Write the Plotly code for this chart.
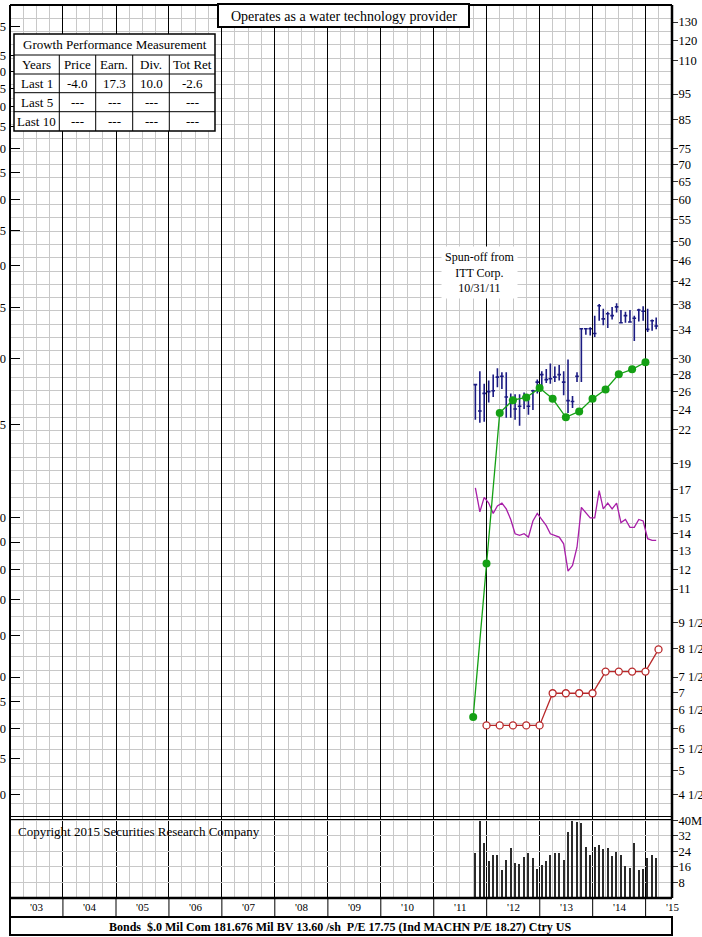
import math
import plotly.graph_objects as go

# ---- monthly price data (Oct 2011 .. Mar 2015) ----
months = ["2011-10", "2011-11", "2011-12",
          "2012-01", "2012-02", "2012-03", "2012-04", "2012-05", "2012-06",
          "2012-07", "2012-08", "2012-09", "2012-10", "2012-11", "2012-12",
          "2013-01", "2013-02", "2013-03", "2013-04", "2013-05", "2013-06",
          "2013-07", "2013-08", "2013-09", "2013-10", "2013-11", "2013-12",
          "2014-01", "2014-02", "2014-03", "2014-04", "2014-05", "2014-06",
          "2014-07", "2014-08", "2014-09", "2014-10", "2014-11", "2014-12",
          "2015-01", "2015-02", "2015-03"]
price_high = [26.9, 28.4, 26.9, 27.3, 28.0, 28.8, 28.3, 28.3, 25.8, 25.7, 25.7, 25.9,
              25.6, 26.2, 27.4, 28.4, 28.7, 29.4, 29.0, 29.2, 28.4, 29.9, 25.5, 28.3,
              34.3, 34.3, 34.4, 36.2, 38.1, 37.3, 36.8, 37.6, 38.2, 37.1, 36.8, 37.1,
              36.2, 37.3, 37.7, 37.3, 35.6, 35.9]
price_low = [23.0, 22.7, 22.8, 24.8, 25.4, 26.5, 26.3, 23.2, 23.2, 23.0, 22.4, 24.1,
             23.5, 24.0, 25.8, 26.1, 27.0, 26.9, 27.1, 27.3, 25.6, 23.7, 24.2, 27.1,
             27.1, 33.3, 33.2, 33.0, 35.4, 34.7, 34.3, 35.6, 36.7, 35.0, 35.1, 35.1,
             32.4, 35.3, 35.4, 33.7, 33.9, 34.1]
price_close = [26.8, 23.9, 25.8, 26.0, 26.1, 27.7, 27.8, 25.4, 25.1, 24.1, 24.4, 25.4,
               24.4, 26.1, 27.1, 28.0, 27.4, 27.5, 27.7, 28.0, 27.1, 25.0, 24.9, 27.8,
               34.2, 34.2, 34.2, 33.5, 37.8, 35.7, 36.5, 36.2, 37.6, 35.1, 36.2, 35.2,
               35.8, 37.1, 36.9, 34.1, 35.4, 34.6]
rel_strength = [17.1, 15.4, 16.4, 16.0, 15.3, 15.8, 16.0, 15.6, 14.9, 14.0, 13.9, 14.0,
                13.8, 14.8, 15.3, 14.9, 14.5, 14.0, 13.9, 13.8, 13.4, 11.9, 12.2, 13.2,
                15.7, 15.3, 15.0, 15.0, 16.9, 15.6, 16.0, 15.6, 16.0, 14.7, 14.9, 14.4,
                14.4, 14.9, 14.8, 13.7, 13.6, 13.6]
volume_m = [23.3, 39.5, 28.2, 18.9, 21.9, 21.9, 14.4, 19.4, 25.7, 18.0, 17.6, 21.1,
            22.9, 20.6, 14.8, 17.1, 19.2, 22.0, 22.9, 23.3, 19.4, 33.8, 39.5, 39.1,
            38.6, 26.4, 22.0, 26.4, 27.3, 25.0, 25.9, 21.5, 23.6, 21.9, 16.2, 15.3,
            28.5, 14.4, 14.8, 20.6, 21.9, 20.6]

# ---- quarterly earnings / dividends ----
eps_dates = ["2011-09-30", "2011-12-31", "2012-03-31", "2012-06-30", "2012-09-30",
             "2012-12-31", "2013-03-31", "2013-06-30", "2013-09-30", "2013-12-31",
             "2014-03-31", "2014-06-30", "2014-09-30", "2014-12-31"]
eps = [0.42, 0.82, 1.58, 1.67, 1.69, 1.76, 1.68, 1.55, 1.59, 1.68, 1.75, 1.87, 1.91, 1.97]
div_dates = ["2011-12-31", "2012-03-31", "2012-06-30", "2012-09-30", "2012-12-31",
             "2013-03-31", "2013-06-30", "2013-09-30", "2013-12-31", "2014-03-31",
             "2014-06-30", "2014-09-30", "2014-12-31", "2015-03-31"]
dividends = [0.405, 0.405, 0.405, 0.405, 0.405, 0.466, 0.466, 0.466, 0.466,
             0.512, 0.512, 0.512, 0.512, 0.564]

# ---- axis labels ----
price_ticks = [130, 120, 110, 95, 85, 75, 70, 65, 60, 55, 50, 46, 42, 38, 34, 30, 28, 26,
               24, 22, 19, 17, 15, 14, 13, 12, 11, 9.5, 8.5, 7.5, 7, 6.5, 6, 5.5, 5, 4.5]
price_tick_text = ["130", "120", "110", "95", "85", "75", "70", "65", "60", "55", "50",
                   "46", "42", "38", "34", "30", "28", "26", "24", "22", "19", "17", "15",
                   "14", "13", "12", "11", "9 1/2", "8 1/2", "7 1/2", "7", "6 1/2", "6",
                   "5 1/2", "5", "4 1/2"]
eps_ticks = [8.5, 7.5, 7.0, 6.5, 6.0, 5.5, 5.0, 4.5, 4.0, 3.5, 3.0, 2.5, 2.0, 1.5,
             1.0, 0.9, 0.8, 0.7, 0.6, 0.5, 0.45, 0.4, 0.35, 0.3]
eps_tick_text = ["8.5", "7.5", "7.0", "6.5", "6.0", "5.5", "5.0", "4.5", "4.0", "3.5",
                 "3.0", "2.5", "2.0", "1.5", "1.00", ".90", ".80", ".70", ".60", ".50",
                 ".45", ".40", ".35", ".30"]
vol_ticks = [8, 16, 24, 32, 40]
vol_tick_text = ["8", "16", "24", "32", "40M"]
vol_tick_text_left = ["8", "16", "24", "32", "40"]
year_labels = ["'03", "'04", "'05", "'06", "'07", "'08", "'09", "'10", "'11", "'12",
               "'13", "'14", "'15"]

growth_header = ["Years", "Price", "Earn.", "Div.", "Tot Ret"]
growth_rows = [["Last 1", "-4.0", "17.3", "10.0", "-2.6"],
               ["Last 5", "---", "---", "---", "---"],
               ["Last 10", "---", "---", "---", "---"]]

title_text = "Operates as a water technology provider"
note_text = "Spun-off from<br>ITT Corp.<br>10/31/11"
copyright_text = "Copyright 2015 Securities Research Company"
footer_text = ("Bonds  $.0 Mil Com 181.676 Mil BV 13.60 /sh  P/E 17.75 "
               "(Ind MACHN P/E 18.27) Ctry US")

FONT = "Liberation Serif"
NAVY = "#1b1b82"
GREEN = "#14a014"
RED = "#b8282a"
MAGENTA = "#a81ea8"
GRID = "#c8c8c8"

W, H = 702, 937
L, R, T, B = 10, 30, 5, 2


def fx(p):
    return (p - L) / (W - L - R)


def fy(p):
    return (H - B - p) / (H - T - B)


# price scale: ratio scale, 24 sits at y=410, 229.6 px per e-fold
def pval(ypix):
    return 24 * math.exp((410 - ypix) / 229.6)


P_TOP, P_BOT = pval(5), pval(819)
EPS_RATIO = 15
grid_vals = [pval(5 + 13.3 * k) for k in range(1, 62) if 5 + 13.3 * k < 818]

mid = [m + "-15" for m in months]

fig = go.Figure()
fig.add_trace(go.Scatter(x=mid, y=rel_strength, mode="lines",
                         line=dict(color=MAGENTA, width=1.3), xaxis="x", yaxis="y"))
fig.add_trace(go.Ohlc(x=mid, open=price_close, high=price_high, low=price_low,
                      close=price_close, tickwidth=0.45,
                      increasing=dict(line=dict(color=NAVY, width=1.6)),
                      decreasing=dict(line=dict(color=NAVY, width=1.6)),
                      xaxis="x", yaxis="y"))
fig.add_trace(go.Scatter(x=eps_dates, y=eps, mode="lines+markers",
                         line=dict(color=GREEN, width=1.3),
                         marker=dict(color=GREEN, size=8), xaxis="x", yaxis="y2"))
fig.add_trace(go.Scatter(x=div_dates, y=dividends, mode="lines+markers",
                         line=dict(color=RED, width=1.3),
                         marker=dict(color="white", size=7, line=dict(color=RED, width=1.3)),
                         xaxis="x", yaxis="y2"))
fig.add_trace(go.Bar(x=mid, y=volume_m, width=9 * 86400000,
                     marker=dict(color="#2a2a2a", line=dict(width=0)),
                     xaxis="x2", yaxis="y3"))

xrange = ["2003-01-01", "2015-07-02"]
xcommon = dict(type="date", range=xrange, dtick="M12", tick0="2003-01-01",
               showgrid=True, gridcolor="black", gridwidth=1.2,
               minor=dict(dtick="M3", tick0="2003-01-01", showgrid=True,
                          gridcolor=GRID, gridwidth=1),
               showticklabels=False, ticks="", zeroline=False, showline=False,
               fixedrange=True)
tfont = dict(family=FONT, size=12.5, color="black")

fig.update_layout(
    width=W, height=H, margin=dict(l=L, r=R, t=T, b=B),
    paper_bgcolor="white", plot_bgcolor="white", showlegend=False,
    font=dict(family=FONT, color="black"),
    bargap=0,
    xaxis=dict(domain=[0, 1], anchor="y", rangeslider=dict(visible=False), **xcommon),
    xaxis2=dict(domain=[0, 1], anchor="y3", **xcommon),
    yaxis=dict(domain=[fy(819), 1], anchor="x", side="right", type="log",
               range=[math.log10(P_BOT), math.log10(P_TOP)],
               tickmode="array", tickvals=price_ticks, ticktext=price_tick_text,
               ticks="outside", ticklen=5, tickcolor="#333", tickfont=tfont,
               ticklabelstandoff=-2,
               showgrid=False, zeroline=False, automargin=False,
               minor=dict(tickmode="array", tickvals=grid_vals, showgrid=True,
                          gridcolor=GRID, gridwidth=1, ticks="")),
    yaxis2=dict(overlaying="y", anchor="x", side="left", type="log",
                range=[math.log10(P_BOT / EPS_RATIO), math.log10(P_TOP / EPS_RATIO)],
                tickmode="array", tickvals=eps_ticks, ticktext=eps_tick_text,
                ticks="inside", ticklen=10, tickcolor="black", tickfont=tfont,
                ticklabelstandoff=3,
                showgrid=False, zeroline=False, automargin=False),
    yaxis3=dict(domain=[fy(898), fy(819)], anchor="x2", side="right",
                range=[0, 40.6], tickmode="array", tickvals=vol_ticks,
                ticktext=vol_tick_text, ticks="outside", ticklen=5, tickcolor="#333",
                tickfont=tfont, ticklabelstandoff=-2,
                showgrid=True, gridcolor=GRID, zeroline=False, automargin=False),
    yaxis4=dict(overlaying="y3", anchor="x2", side="left", range=[0, 40.6],
                tickmode="array", tickvals=vol_ticks, ticktext=vol_tick_text_left,
                ticks="", tickfont=tfont, ticklabelstandoff=3,
                showgrid=False, zeroline=False, automargin=False),
)

shapes = []
# frame
shapes.append(dict(type="line", xref="paper", yref="paper", x0=0, x1=1, y0=1, y1=1,
                   line=dict(color="black", width=2)))
shapes.append(dict(type="line", xref="paper", yref="paper", x0=0, x1=0, y0=fy(935), y1=1,
                   line=dict(color="black", width=2)))
shapes.append(dict(type="line", xref="paper", yref="paper", x0=1, x1=1, y0=fy(898), y1=1,
                   line=dict(color="black", width=2.5)))
for yy in (816.5, 819.5):
    shapes.append(dict(type="line", xref="paper", yref="paper", x0=0, x1=1, y0=fy(yy),
                       y1=fy(yy), line=dict(color="black", width=1)))
shapes.append(dict(type="line", xref="paper", yref="paper", x0=0, x1=1, y0=fy(898),
                   y1=fy(898), line=dict(color="black", width=2.5)))
# year separators through the label row
for yr in range(2004, 2016):
    shapes.append(dict(type="line", xref="x", yref="paper", x0=f"{yr}-01-01",
                       x1=f"{yr}-01-01", y0=fy(917), y1=fy(898),
                       line=dict(color="black", width=1)))
# footer box
shapes.append(dict(type="rect", xref="paper", yref="paper", x0=0, x1=1, y0=fy(935),
                   y1=fy(917), fillcolor="white", line=dict(color="black", width=2)))
# title box
shapes.append(dict(type="rect", xref="paper", yref="paper", x0=fx(218), x1=fx(469),
                   y0=fy(27), y1=fy(4), fillcolor="white", layer="above",
                   line=dict(color="black", width=2)))
# growth table
tab_x = [14, 59.3, 95.7, 132.7, 169.3, 215]
tab_y = [34, 55, 74, 92.7, 111.7, 131]
shapes.append(dict(type="rect", xref="paper", yref="paper", x0=fx(tab_x[0]),
                   x1=fx(tab_x[-1]), y0=fy(tab_y[-1]), y1=fy(tab_y[0]),
                   fillcolor="white", layer="above", line=dict(color="black", width=1.5)))
for yy in tab_y[1:-1]:
    shapes.append(dict(type="line", xref="paper", yref="paper", x0=fx(tab_x[0]),
                       x1=fx(tab_x[-1]), y0=fy(yy), y1=fy(yy), layer="above",
                       line=dict(color="black", width=1)))
for xx in tab_x[1:-1]:
    shapes.append(dict(type="line", xref="paper", yref="paper", x0=fx(xx), x1=fx(xx),
                       y0=fy(tab_y[-1]), y1=fy(tab_y[1]), layer="above",
                       line=dict(color="black", width=1)))


def label(text, x, y, size=13, xref="paper", xanchor="center", **kw):
    return dict(text=text, x=x, y=y, xref=xref, yref="paper", xanchor=xanchor,
                yanchor="middle", showarrow=False,
                font=dict(family=FONT, size=size, color="black"), **kw)


ann = [label(title_text, fx(343.5), fy(16), size=14),
       label("Growth Performance Measurement", fx(114.5), fy(44.5))]
cells = [growth_header] + growth_rows
for r, row in enumerate(cells):
    yc = (tab_y[r + 1] + tab_y[r + 2]) / 2
    for c, txt in enumerate(row):
        xc = (tab_x[c] + tab_x[c + 1]) / 2
        ann.append(label(txt, fx(xc), fy(yc)))
ann.append(label(note_text, fx(479), fy(272.5), size=12, bgcolor="white", borderpad=3))
ann.append(label(copyright_text, fx(16), fy(831), xanchor="left"))
ann.append(label("<b>" + footer_text + "</b>", fx(340), fy(926.5), size=12))
for i, lab in enumerate(year_labels):
    ann.append(label(lab, f"{2003 + i}-07-02", fy(907), size=11, xref="x"))

fig.update_layout(shapes=shapes, annotations=ann)
fig.write_html("out.html", config={"displayModeBar": False},
               post_script="document.body.style.margin='0';")
